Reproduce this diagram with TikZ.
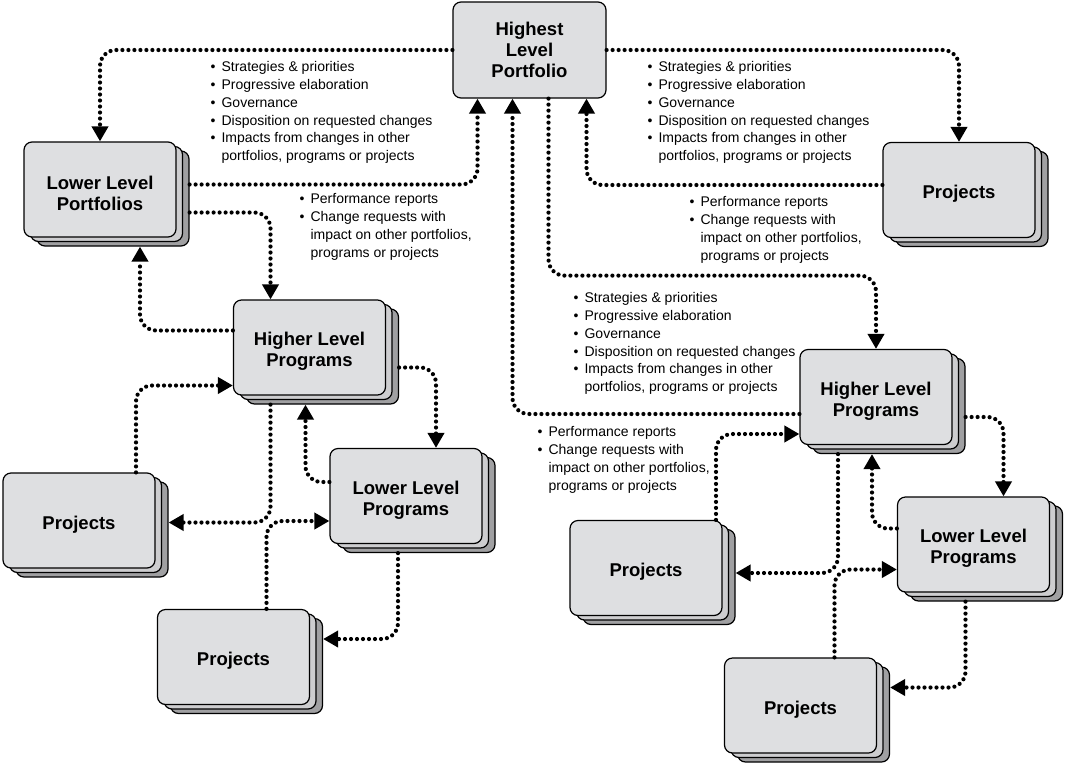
\documentclass[tikz,border=0pt]{standalone}
\usepackage{fontspec}
\setmainfont{Liberation Sans}
\usetikzlibrary{calc,arrows.meta,shadows}

\definecolor{boxgray}{RGB}{222,223,225}
\definecolor{midgray}{RGB}{205,205,207}
\definecolor{backgray}{RGB}{160,160,162}

\newcommand{\boxtop}{\rule{0pt}{21pt}}
\newcommand{\bulit}{\makebox[11pt][l]{\textbullet}}
\newcommand{\indt}{\hspace*{11pt}}
\newcommand{\downlist}{\bulit Strategies \& priorities\\ \bulit Progressive elaboration\\ \bulit Governance\\ \bulit Disposition on requested changes\\ \bulit Impacts from changes in other\\ \indt portfolios, programs or projects}
\newcommand{\uplist}{\bulit Performance reports\\ \bulit Change requests with\\ \indt impact on other portfolios,\\ \indt programs or projects}

\begin{document}
\begin{tikzpicture}[x=1pt, y=-1pt, line width=1.2pt,
    main/.style = {draw, fill=boxgray, rounded corners=8pt, minimum width=152pt, minimum height=95pt, align=center, font=\fontsize{18.5}{21}\selectfont\bfseries},
    stack/.style = {main, general shadow={shadow xshift=13pt, shadow yshift=-9pt, fill=backgray, draw}, general shadow={shadow xshift=6.5pt, shadow yshift=-4.5pt, fill=midgray, draw}},
    note/.style = {anchor=north west, inner sep=0pt, align=left, font=\fontsize{14}{17.8}\selectfont},
    link/.style = {line width=4.2pt, dash pattern=on 0pt off 6pt, line cap=round, rounded corners=16pt, -{Triangle[length=15pt,width=16pt]}}]
    \useasboundingbox (0,0) rectangle (1066,764);

    \node[main, minimum width=153pt, minimum height=96pt] (1) at (529.5,50) {Highest\\Level\\Portfolio};
    \node[stack] (2) at (100,189.5) {\boxtop Lower Level\\Portfolios};
    \node[stack] (3) at (959,190) {\boxtop Projects};
    \node[stack] (4) at (309.5,347.5) {\boxtop Higher Level\\Programs};
    \node[stack] (5) at (406,496) {\boxtop Lower Level\\Programs};
    \node[stack] (6) at (79,520.5) {\boxtop Projects};
    \node[stack] (7) at (233.5,657) {\boxtop Projects};
    \node[stack] (8) at (876,397) {\boxtop Higher Level\\Programs};
    \node[stack] (9) at (973.5,544.5) {\boxtop Lower Level\\Programs};
    \node[stack] (10) at (646,568) {\boxtop Projects};
    \node[stack] (11) at (800.5,705.5) {\boxtop Projects};

    \node[note] (n1) at (210,61) {\downlist};
    \node[note] (n2) at (647,61) {\downlist};
    \node[note] (n3) at (299,193) {\uplist};
    \node[note] (n4) at (689,196) {\uplist};
    \node[note] (n5) at (573,292) {\downlist};
    \node[note] (n6) at (537,426) {\uplist};

    % portfolio level
    \draw[link] (1.west) -| (2.north);
    \draw[link] ($(2.east)+(13,-5)$) -| ($(1.south)+(-52,0)$);
    \draw[link] ($(8.west)+(0,17)$) -| ($(1.south)+(-17,0)$);
    \draw[link] ($(1.south)+(19,0)$) -- ++(0,177) -| (8.north);
    \draw[link] ($(3.west)+(0,-5)$) -| ($(1.south)+(57,0)$);
    \draw[link] (1.east) -| (3.north);

    % left programs
    \draw[link] ($(2.east)+(13,23)$) -| ($(4.north)+(-39,0)$);
    \draw[link] ($(4.west)+(0,-17)$) -| ($(2.south)+(40,9)$);
    \draw[link] ($(6.north)+(57,0)$) |- ($(4.west)+(0,38)$);
    \draw[link] ($(4.south)+(-39,9)$) |- ($(6.east)+(13,2)$);
    \draw[link] ($(4.east)+(13,20)$) -| ($(5.north)+(30,0)$);
    \draw[link] ($(5.west)+(0,-14)$) -| ($(4.south)+(-4,9)$);
    \draw[link] ($(7.north)+(33,0)$) |- ($(5.west)+(0,25)$);
    \draw[link] ($(5.south)+(-8,9)$) |- ($(7.east)+(13,-18)$);

    % right programs
    \draw[link] ($(10.north)+(70,0)$) |- ($(8.west)+(0,37)$);
    \draw[link] ($(8.south)+(-38,9)$) |- ($(10.east)+(13,5)$);
    \draw[link] ($(8.east)+(13,20)$) -| ($(9.north)+(30,0)$);
    \draw[link] ($(9.west)+(0,-16)$) -| ($(8.south)+(-4,9)$);
    \draw[link] ($(11.north)+(34,0)$) |- ($(9.west)+(0,25)$);
    \draw[link] ($(9.south)+(-8,9)$) |- ($(11.east)+(13,-18)$);
\end{tikzpicture}
\end{document}
